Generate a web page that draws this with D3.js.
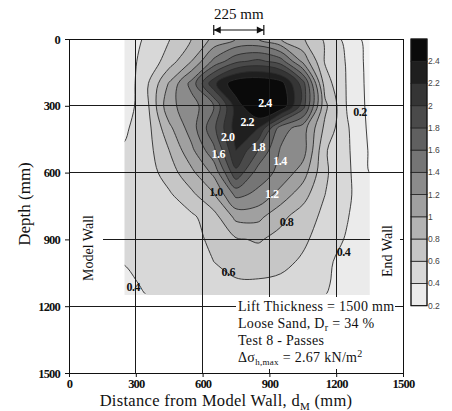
<!DOCTYPE html>
<html>
<head>
<meta charset="utf-8">
<script src="https://cdn.jsdelivr.net/npm/d3@7"></script>
<style>
  body { margin: 0; background: #fff; }
  svg { display: block; }
  text { font-family: "Liberation Serif", "Times New Roman", serif; fill: #111; }
</style>
</head>
<body>
<div id="chart"></div>
<script>
// sample points of the measured field (mm)
var gridX = [250, 350, 450, 550, 650, 750, 850, 950, 1050, 1150, 1250, 1350];
var gridY = [0, 100, 200, 300, 400, 500, 600, 700, 800, 900, 1000, 1100];

// horizontal stress increase, kN/m2, one row per depth in gridY
var stress0    = [0.33, 0.42, 0.59, 0.80, 1.05, 1.20, 1.20, 1.00, 0.82, 0.57, 0.33, 0.12];
var stress100  = [0.34, 0.45, 0.70, 1.00, 1.45, 1.75, 1.85, 1.70, 1.15, 0.58, 0.38, 0.13];
var stress200  = [0.25, 0.57, 1.02, 1.47, 2.15, 2.55, 2.60, 2.50, 1.90, 0.70, 0.38, 0.14];
var stress300  = [0.28, 0.55, 1.15, 1.30, 1.60, 2.30, 2.65, 2.60, 1.90, 0.85, 0.38, 0.15];
var stress400  = [0.37, 0.52, 0.95, 1.30, 1.75, 2.30, 2.20, 1.50, 1.30, 0.75, 0.42, 0.16];
var stress500  = [0.42, 0.52, 0.80, 1.15, 1.55, 2.20, 1.80, 1.38, 1.30, 0.62, 0.43, 0.18];
var stress600  = [0.45, 0.50, 0.70, 0.95, 1.25, 1.95, 1.50, 1.35, 1.10, 0.63, 0.44, 0.20];
var stress700  = [0.46, 0.50, 0.57, 0.75, 0.98, 1.45, 1.35, 1.12, 0.88, 0.60, 0.44, 0.24];
var stress800  = [0.46, 0.50, 0.53, 0.56, 0.72, 1.05, 1.05, 0.85, 0.70, 0.55, 0.41, 0.25];
var stress900  = [0.45, 0.48, 0.50, 0.53, 0.65, 0.78, 0.82, 0.74, 0.64, 0.50, 0.38, 0.26];
var stress1000 = [0.41, 0.45, 0.48, 0.50, 0.60, 0.68, 0.70, 0.66, 0.57, 0.44, 0.33, 0.25];
var stress1100 = [0.35, 0.43, 0.46, 0.49, 0.53, 0.57, 0.57, 0.55, 0.50, 0.42, 0.33, 0.26];
var stress = [stress0, stress100, stress200, stress300, stress400, stress500,
              stress600, stress700, stress800, stress900, stress1000, stress1100];

var levels = [0.2, 0.4, 0.6, 0.8, 1.0, 1.2, 1.4, 1.6, 1.8, 2.0, 2.2, 2.4];
var axisTicks = [0, 300, 600, 900, 1200, 1500];
var gridLines = [300, 600, 900, 1200];

// contour labels: text, distance (mm), depth (mm)
var labelText  = ["2.4", "2.2", "2.0", "1.8", "1.6", "1.4", "1.2", "1.0", "0.8", "0.6", "0.4", "0.2", "0.4"];
var labelX     = [880, 800, 713, 850, 670, 948, 910, 660, 977, 715, 1233, 1307, 288];
var labelY     = [288, 372, 441, 484, 517, 548, 693, 685, 821, 1046, 955, 327, 1113];

var x = d3.scaleLinear().domain([0, 1500]).range([69, 403]);
var y = d3.scaleLinear().domain([0, 1500]).range([39, 373]);
var shade = d3.scaleLinear().domain([0.3, 1.1, 2.5]).range(["#ebebeb", "#a0a0a0", "#0a0a0a"]);

var svg = d3.select("#chart").append("svg")
    .attr("width", 452)
    .attr("height", 411);

// measured area
var fx0 = x(250), fx1 = x(1350), fy0 = y(0), fy1 = y(1150);
var defs = svg.append("defs");
defs.append("clipPath").attr("id", "field").append("rect")
    .attr("x", fx0).attr("y", fy0).attr("width", fx1 - fx0).attr("height", fy1 - fy0);
defs.append("clipPath").attr("id", "fieldLines").append("rect")
    .attr("x", fx0).attr("y", fy0).attr("width", fx1 - fx0).attr("height", fy1 - fy0 - 1.2);

svg.append("rect")
    .attr("x", fx0).attr("y", fy0)
    .attr("width", fx1 - fx0).attr("height", fy1 - fy0)
    .attr("fill", "#f3f3f3");

var nx = gridX.length, ny = gridY.length;
var contours = d3.contours().size([nx, ny]).thresholds(levels)(d3.merge(stress));
var gx = d3.scaleLinear().domain([0.5, nx - 0.5]).range([gridX[0], gridX[nx - 1]]);
var gy = d3.scaleLinear().domain([0.5, ny - 0.5]).range([gridY[0], gridY[ny - 1]]);
var ring = d3.line().curve(d3.curveCatmullRomClosed.alpha(0.5));

function shape(c) {
    var d = "";
    c.coordinates.forEach(function (poly) {
        poly.forEach(function (r) {
            d += ring(r.slice(0, -1).map(function (p) { return [x(gx(p[0])), y(gy(p[1]))]; }));
        });
    });
    return d;
}

svg.append("g")
    .attr("clip-path", "url(#field)")
    .selectAll("path")
    .data(contours)
    .enter().append("path")
    .attr("d", shape)
    .attr("fill-rule", "evenodd")
    .attr("fill", function (c) { return shade(c.value + 0.1); });

svg.append("g")
    .attr("clip-path", "url(#fieldLines)")
    .selectAll("path")
    .data(contours)
    .enter().append("path")
    .attr("d", shape)
    .attr("fill", "none")
    .attr("stroke", "#2b2b2b")
    .attr("stroke-width", 0.9);

// grid
var grid = svg.append("g").attr("stroke", "#1a1a1a").attr("stroke-width", 1).attr("shape-rendering", "crispEdges");
grid.selectAll("line.v").data(gridLines).enter().append("line")
    .attr("x1", function (d) { return x(d); }).attr("x2", function (d) { return x(d); })
    .attr("y1", y(0)).attr("y2", y(1500));
grid.selectAll("line.h").data(gridLines).enter().append("line")
    .attr("y1", function (d) { return y(d); }).attr("y2", function (d) { return y(d); })
    .attr("x1", x(0)).attr("x2", x(1500));

// axes
var xAxis = svg.append("g")
    .attr("transform", "translate(0," + y(1500) + ")")
    .call(d3.axisBottom(x).tickValues(axisTicks).tickFormat(d3.format("d")).tickSize(4).tickPadding(2));
var yAxis = svg.append("g")
    .attr("transform", "translate(" + x(0) + ",0)")
    .call(d3.axisLeft(y).tickValues(axisTicks).tickFormat(d3.format("d")).tickSize(4).tickPadding(5));
[xAxis, yAxis].forEach(function (a) {
    a.select(".domain").remove();
    a.selectAll("line").attr("stroke", "#111");
    a.selectAll("text")
        .style("font-family", "'Liberation Serif', serif")
        .style("font-weight", "bold")
        .style("font-size", "12.5px")
        .style("letter-spacing", "-0.8px")
        .attr("fill", "#111");
});

svg.append("rect")
    .attr("x", x(0)).attr("y", y(0))
    .attr("width", x(1500) - x(0)).attr("height", y(1500) - y(0))
    .attr("fill", "none").attr("stroke", "#111").attr("stroke-width", 1)
    .attr("shape-rendering", "crispEdges");

// wall labels with white backing
svg.append("rect").attr("x", x(0) + 1).attr("y", 205).attr("width", 33).attr("height", 85).attr("fill", "#fff");
svg.append("rect").attr("x", 370).attr("y", 218).attr("width", 30).attr("height", 66).attr("fill", "#fff");
svg.append("text")
    .attr("transform", "translate(93,248) rotate(-90)")
    .attr("text-anchor", "middle")
    .style("font-size", "14px")
    .text("Model Wall");
svg.append("text")
    .attr("transform", "translate(392,251) rotate(-90)")
    .attr("text-anchor", "middle")
    .style("font-size", "14px")
    .text("End Wall");

// test notes
svg.append("rect").attr("x", 236).attr("y", 297).attr("width", 159).attr("height", 72).attr("fill", "#fff");
var notes = svg.append("g").style("font-size", "14px").style("letter-spacing", "0.3px");
notes.append("text").attr("x", 238).attr("y", 311).text("Lift Thickness = 1500 mm");
var n2 = notes.append("text").attr("x", 238).attr("y", 328);
n2.append("tspan").text("Loose Sand, D");
n2.append("tspan").attr("dy", 3).style("font-size", "10px").text("r");
n2.append("tspan").attr("dy", -3).text(" = 34 %");
notes.append("text").attr("x", 238).attr("y", 345).text("Test 8 - Passes");
var n4 = notes.append("text").attr("x", 238).attr("y", 362);
n4.append("tspan").text("\u0394\u03c3");
n4.append("tspan").attr("dy", 3).style("font-size", "9px").text("h,max");
n4.append("tspan").attr("dy", -3).text(" = 2.67 kN/m");
n4.append("tspan").attr("dy", -5).style("font-size", "10px").text("2");

// contour labels
svg.append("g")
    .selectAll("text")
    .data(labelText)
    .enter().append("text")
    .attr("x", function (d, i) { return x(labelX[i]); })
    .attr("y", function (d, i) { return y(labelY[i]); })
    .attr("dy", "0.35em")
    .attr("text-anchor", "middle")
    .style("font-size", "12px")
    .style("font-weight", "bold")
    .style("letter-spacing", "-0.5px")
    .style("fill", function (d) { return +d >= 1.2 ? "#fff" : "#111"; })
    .text(function (d) { return d; });

// axis titles
var xt = svg.append("text")
    .attr("x", 226).attr("y", 406)
    .attr("text-anchor", "middle")
    .style("font-size", "16.5px")
    .style("letter-spacing", "0.3px");
xt.append("tspan").text("Distance from Model Wall, d");
xt.append("tspan").attr("dy", 4).style("font-size", "11px").text("M");
xt.append("tspan").attr("dy", -4).text(" (mm)");
svg.append("text")
    .attr("transform", "translate(30,204) rotate(-90)")
    .attr("text-anchor", "middle")
    .style("font-size", "17px")
    .text("Depth (mm)");

// 225 mm marker
var a0 = x(650), a1 = x(875), ay = 30;
svg.append("text").attr("x", (a0 + a1) / 2).attr("y", 19).attr("text-anchor", "middle")
    .style("font-size", "15px").text("225 mm");
var mk = svg.append("g").attr("stroke", "#111").attr("stroke-width", 1.2);
mk.append("line").attr("x1", a0).attr("x2", a1).attr("y1", ay).attr("y2", ay);
mk.append("line").attr("x1", a0).attr("x2", a0).attr("y1", ay - 5).attr("y2", ay + 5);
mk.append("line").attr("x1", a1).attr("x2", a1).attr("y1", ay - 5).attr("y2", ay + 5);
svg.append("path").attr("d", "M" + a0 + "," + ay + "l7,-3.5v7z").attr("fill", "#111");
svg.append("path").attr("d", "M" + a1 + "," + ay + "l-7,-3.5v7z").attr("fill", "#111");

// colour bar
var cb = d3.scaleLinear().domain([0.2, 2.6]).range([305.7, 39]);
var bar = svg.append("g");
bar.selectAll("rect")
    .data(levels)
    .enter().append("rect")
    .attr("x", 411).attr("width", 16)
    .attr("y", function (d) { return cb(d + 0.2); })
    .attr("height", function (d) { return cb(d) - cb(d + 0.2); })
    .attr("fill", function (d) { return shade(d + 0.1); })
    .attr("stroke", "#222").attr("stroke-width", 0.8);
bar.append("rect")
    .attr("x", 411).attr("y", cb(2.6)).attr("width", 16).attr("height", cb(0.2) - cb(2.6))
    .attr("fill", "none").attr("stroke", "#111").attr("stroke-width", 1);
bar.selectAll("text")
    .data(levels)
    .enter().append("text")
    .attr("x", 428)
    .attr("y", function (d) { return cb(d); })
    .attr("dy", "0.35em")
    .style("font-family", "'Liberation Sans', Arial, sans-serif")
    .style("font-size", "8.5px")
    .style("fill", "#444")
    .text(function (d) { return String(+d.toFixed(1)); });
</script>
</body>
</html>
